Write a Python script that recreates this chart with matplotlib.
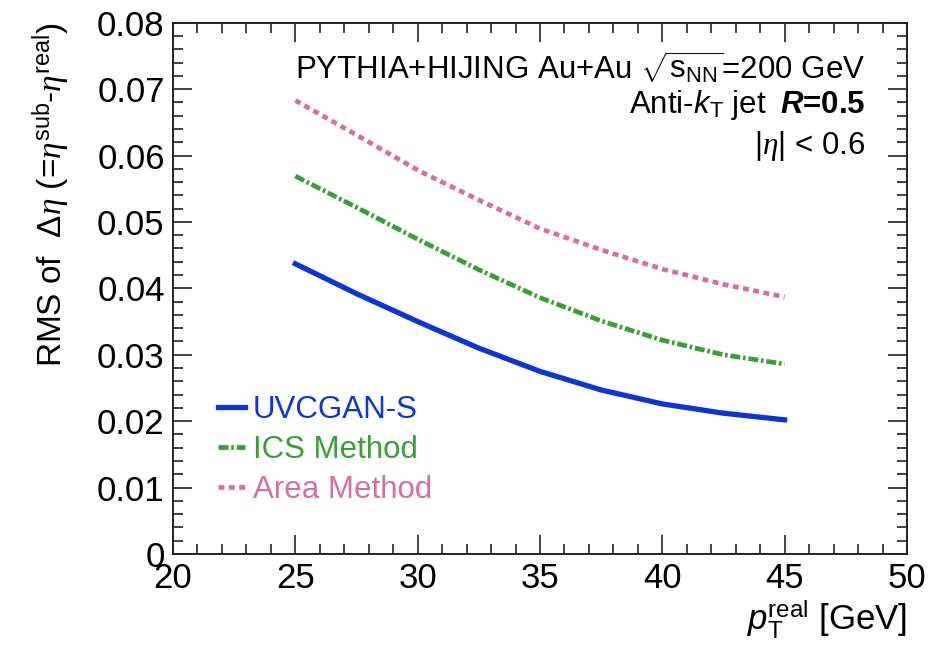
import matplotlib
matplotlib.use("Agg")
import matplotlib.pyplot as plt
from matplotlib.ticker import MultipleLocator

plt.rcParams['font.family'] = ['Liberation Sans', 'DejaVu Sans']
plt.rcParams['mathtext.fontset'] = 'custom'
plt.rcParams['mathtext.rm'] = 'Liberation Sans'
plt.rcParams['mathtext.it'] = 'Liberation Serif:italic'
plt.rcParams['mathtext.sf'] = 'Liberation Sans:italic'
plt.rcParams['mathtext.bf'] = 'Liberation Sans:bold'
plt.rcParams['mathtext.bfit'] = 'Liberation Sans:italic:bold'

# values
pt = [25, 27.5, 30, 32.5, 35, 37.5, 40, 42.5, 45]
rms_uvcgan = [0.0437, 0.0392, 0.0350, 0.0310, 0.0275, 0.0247, 0.0226, 0.0212, 0.0202]
rms_ics = [0.0569, 0.0522, 0.0474, 0.0428, 0.0386, 0.0351, 0.0322, 0.0300, 0.0286]
rms_area = [0.0683, 0.0631, 0.0578, 0.0533, 0.0490, 0.0458, 0.0429, 0.0406, 0.0387]

blue = '#0b35d4'
green = '#36a036'
pink = '#d46ea4'

fig = plt.figure(figsize=(9.29, 6.63), dpi=100)
ax = fig.add_axes([0.1862, 0.1644, 0.7901, 0.8014])

ax.plot(pt, rms_uvcgan, color=blue, lw=3.8, label='UVCGAN-S',
        solid_joinstyle='round')
ax.plot(pt, rms_ics, color=green, lw=3.4, linestyle=(0, (2.1, 0.6, 0.55, 0.6)),
        label='ICS Method')
ax.plot(pt, rms_area, color=pink, lw=3.4, linestyle=(0, (1.25, 0.95)),
        label='Area Method')

ax.set_xlim(20, 50)
ax.set_ylim(0, 0.08)
ax.xaxis.set_major_locator(MultipleLocator(5))
ax.xaxis.set_minor_locator(MultipleLocator(1))
ax.yaxis.set_minor_locator(MultipleLocator(0.002))
ax.set_yticks([0, 0.01, 0.02, 0.03, 0.04, 0.05, 0.06, 0.07, 0.08])
ax.set_yticklabels(['0', '0.01', '0.02', '0.03', '0.04', '0.05', '0.06', '0.07', '0.08'])
ax.tick_params(which='both', direction='in', top=True, right=True, labelsize=25,
               width=1.2, color='#222222')
ax.tick_params(which='major', length=14, pad=6)
ax.tick_params(which='minor', length=7)
for s in ax.spines.values():
    s.set_linewidth(1.4)
    s.set_color('#222222')

ax.set_ylabel(r'RMS of  $\Delta\eta$ (=$\eta^{\rm sub}$-$\eta^{\rm real}$)',
              fontsize=24, loc='top', labelpad=18)
ax.set_xlabel(r'$\mathsf{p}_{\rm T}^{\rm real}$ [GeV]', fontsize=25, loc='right',
              labelpad=2)

ax.text(0.943, 0.915, r'PYTHIA+HIJING Au+Au $\sqrt{{\rm s}_{\rm NN}}$=200 GeV',
        transform=ax.transAxes, ha='right', va='center', fontsize=22.5)
r_txt = ax.text(0.943, 0.845, r'$\mathbfit{R}$=0.5', fontweight='bold',
                transform=ax.transAxes, ha='right', va='center', fontsize=22.5)
ax.annotate(r'Anti-$\mathsf{k}_{\rm T}$ jet', xy=(0, 0.5), xycoords=r_txt,
            xytext=(-9, 0), textcoords='offset points',
            ha='right', va='center', fontsize=22.5)
ax.text(0.943, 0.768, r'$|\eta|$ < 0.6',
        transform=ax.transAxes, ha='right', va='center', fontsize=22.5)

ax.legend(loc='center left', bbox_to_anchor=(0.061, 0.196), frameon=False,
          fontsize=22.5, labelcolor='linecolor', handlelength=0.86,
          handletextpad=0.26, labelspacing=0.33, borderpad=0, borderaxespad=0)

fig.savefig('out.png', dpi=100)
